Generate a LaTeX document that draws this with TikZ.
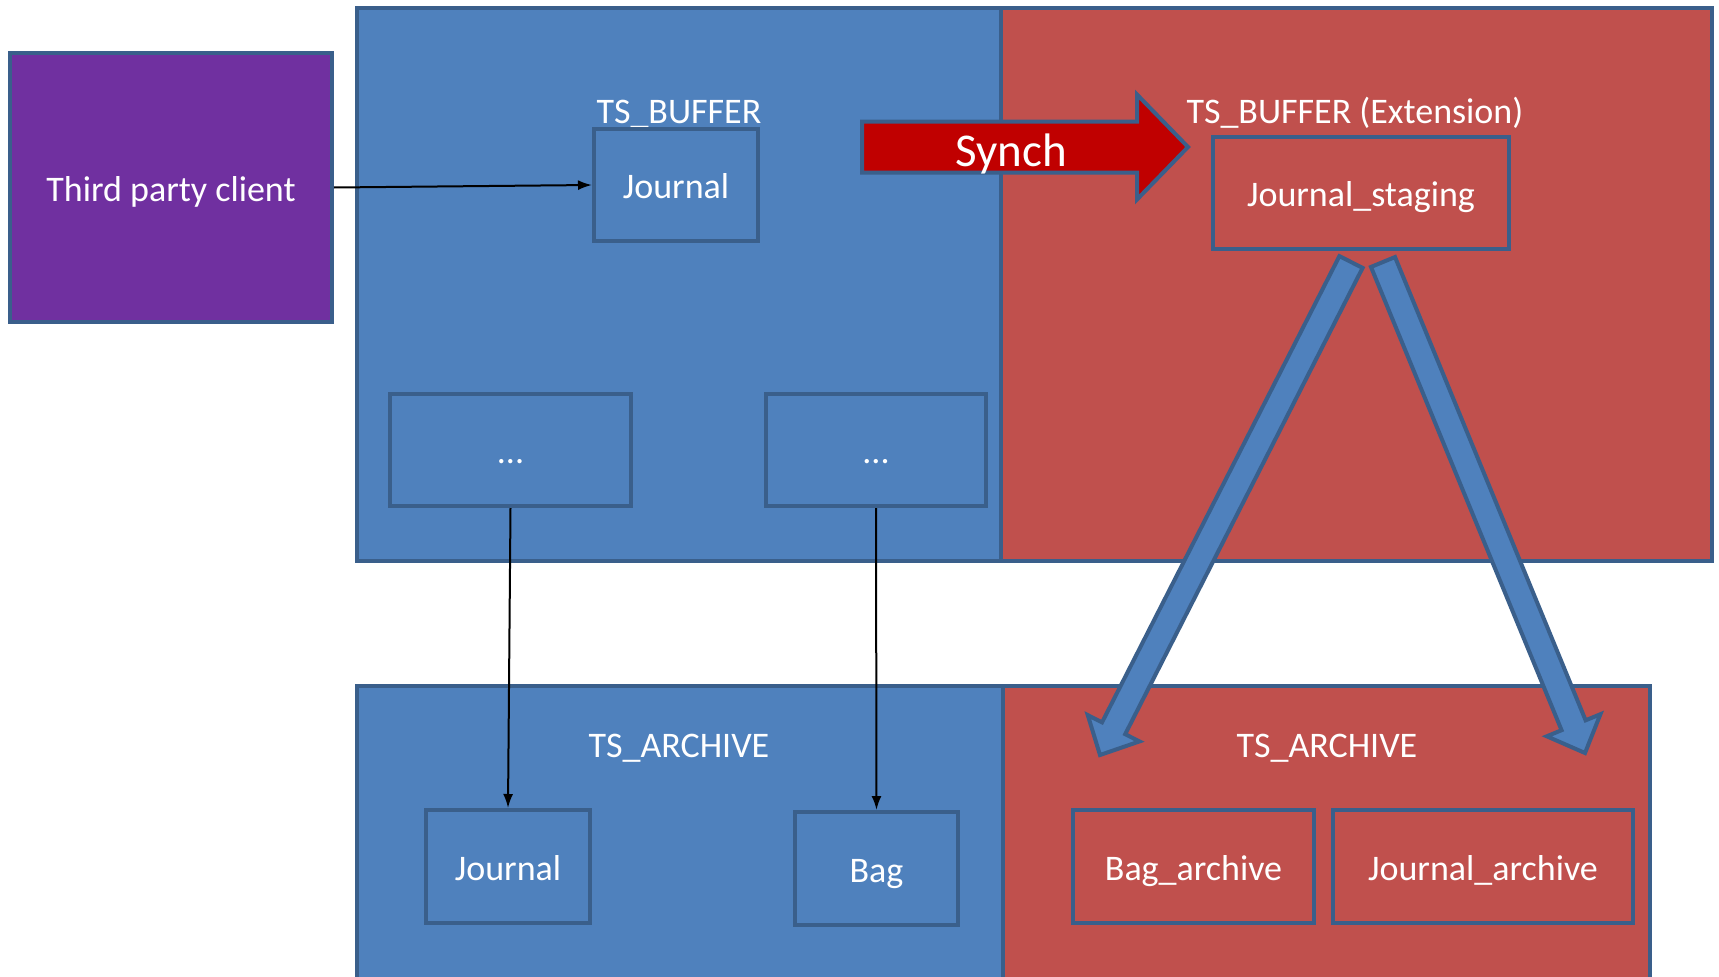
\documentclass[tikz,border=0pt]{standalone}
\usepackage{fontspec}
\setmainfont{Carlito}
\usetikzlibrary{calc,arrows.meta}
\definecolor{blu}{HTML}{4F81BD}
\definecolor{rd}{HTML}{C0504D}
\definecolor{bd}{HTML}{3A5F8B}
\definecolor{purp}{HTML}{7030A0}
\definecolor{synch}{HTML}{C00000}
\newcommand\myblockarrow[6]{% start, tip, shaft half, head half, head length, fill
  \coordinate (hb) at ($(#2)!#5!(#1)$);
  \draw[blockarr, fill=#6]
    ($(#1)!#3!90:(#2)$) -- ($(hb)!#3!90:(#2)$) -- ($(hb)!#4!90:(#2)$) -- (#2)
    -- ($(hb)!#4!-90:(#2)$) -- ($(hb)!#3!-90:(#2)$) -- ($(#1)!#3!-90:(#2)$) -- cycle;}
\tikzset{
  container/.style={draw=bd, line width=4pt, rectangle, inner sep=0pt},
  box/.style={draw=bd, line width=4pt, rectangle, inner sep=0pt, text=white,
    font=\fontsize{36}{43}\selectfont, minimum height=112pt,
    text height=27pt, text depth=0pt},
  lbl/.style={text=white, font=\fontsize{36}{43}\selectfont, inner sep=0pt,
    text height=27pt, text depth=0pt},
  thin/.style={line width=2pt, -{Latex[length=14pt,width=10pt]}},
  blockarr/.style={draw=bd, line width=4pt, line join=miter},
}
\begin{document}
\begin{tikzpicture}[x=1pt,y=-1pt]
\useasboundingbox (0,0) rectangle (1719,977);
\clip (0,0) rectangle (1719,977);
% containers
\node[container, fill=purp, minimum width=322pt, minimum height=269pt, text=white,
  font=\fontsize{36}{43}\selectfont, text height=27pt, text depth=0pt] (tpc) at (171,187.5) {Third party client};
\node[container, fill=blu, minimum width=644pt, minimum height=553pt] (bufb) at (679,284.5) {};
\node[container, fill=rd, minimum width=711pt, minimum height=553pt] (bufr) at (1356.5,284.5) {};
\node[container, fill=blu, minimum width=646pt, minimum height=304pt] (arcb) at (680,838) {};
\node[container, fill=rd, minimum width=647pt, minimum height=304pt] (arcr) at (1326.5,838) {};
% labels
\node[lbl] (l1) at (679,110) {TS\_BUFFER};
\node[lbl] (l2) at (1355,110) {TS\_BUFFER (Extension)};
\node[lbl] (l3) at (679,743.5) {TS\_ARCHIVE};
\node[lbl] (l4) at (1327,743.5) {TS\_ARCHIVE};
% boxes
\node[box, fill=blu, minimum width=164pt] (jt) at (676,185) {Journal};
\node[box, fill=blu, minimum width=241pt] (dl) at (510.5,450) {...};
\node[box, fill=blu, minimum width=220pt] (dr) at (876,450) {...};
\node[box, fill=rd, minimum width=296pt] (js) at (1361,193) {Journal\_staging};
\node[box, fill=blu, minimum width=164pt, minimum height=113pt] (jb) at (508,866.5) {Journal};
\node[box, fill=blu, minimum width=163pt, minimum height=113pt] (bag) at (876.5,868.5) {Bag};
\node[box, fill=rd, minimum width=241pt, minimum height=113pt] (ba) at (1193.5,866.5) {Bag\_archive};
\node[box, fill=rd, minimum width=300pt, minimum height=113pt] (ja) at (1483,866.5) {Journal\_archive};
% thin arrows
\draw[thin] (tpc.east) -- (jt.west);
\draw[thin] (dl.south) -- (jb.north);
\draw[thin] (dr.south) -- (bag.north);
% synch arrow
\coordinate (sys) at (862,147);
\coordinate (syt) at (1188,147);
\myblockarrow{sys}{syt}{25.5pt}{52.5pt}{51pt}{synch}
\node[lbl, font=\fontsize{47}{56}\selectfont, text height=34pt] (syl) at (1011,149) {Synch};
% block arrows
\coordinate (la) at (1351,262);
\coordinate (lt) at (1100,755);
\coordinate (ra) at (1383,262);
\coordinate (rt) at (1585,753);
\myblockarrow{la}{lt}{13pt}{29pt}{30pt}{blu}
\myblockarrow{ra}{rt}{13pt}{29pt}{30pt}{blu}
\end{tikzpicture}
\end{document}
